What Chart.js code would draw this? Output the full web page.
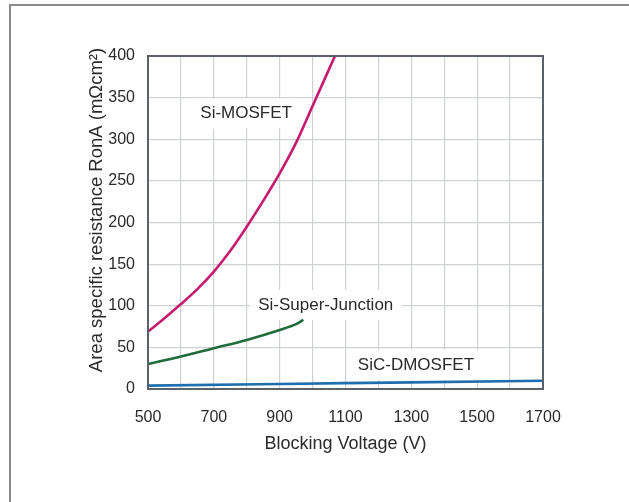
<!DOCTYPE html>
<html>
<head>
<meta charset="utf-8">
<script src="https://cdn.jsdelivr.net/npm/chart.js@4.4.1/dist/chart.umd.min.js"></script>
<style>
  html, body { margin: 0; padding: 0; background: #ffffff; }
  #wrap { position: relative; width: 629px; height: 502px; overflow: hidden; }
  #frame { position: absolute; left: 9px; top: 4px; width: 700px; height: 600px;
           border-top: 2px solid #8a8a8a; border-left: 2px solid #8a8a8a; }
  canvas { position: absolute; left: 0; top: 0; }
</style>
</head>
<body>
<div id="wrap">
  <div id="frame"></div>
  <canvas id="c" width="629" height="502"></canvas>
</div>
<script>
// Blocking voltage (V) and area specific on-resistance (mΩcm²)
const siMosfetV   = [500, 550, 600, 650, 700, 750, 800, 850, 900, 950, 1000, 1068];
const siMosfetR   = [69, 85, 102, 120, 141, 166, 195, 226, 259, 296, 340, 400];
const superJuncV  = [500, 600, 700, 800, 900, 950, 972];
const superJuncR  = [30, 39, 49, 59, 71, 78, 83];
const sicV        = [500, 900, 1300, 1700];
const sicR        = [4, 6, 8, 10];

const seriesNames  = ['Si-MOSFET', 'Si-Super-Junction', 'SiC-DMOSFET'];
const labelAnchorV = [798, 1040, 1314];
const labelAnchorR = [331, 101, 29];

const xTitle = 'Blocking Voltage (V)';
const yTitle = 'Area specific resistance RonA (mΩcm²)';

const xMin = 500, xMax = 1700, xStep = 100, xLabelStep = 200;
const yMin = 0, yMax = 400, yStep = 50;

const FONT = '"Liberation Sans", Arial, sans-serif';
const TEXT = '#2a2a2a';

function pts(xs, ys) { return xs.map((x, i) => ({ x: x, y: ys[i] })); }

// White-boxed curve labels, the plot frame and the vertical axis title
const annotate = {
  id: 'annotate',
  beforeDatasetsDraw(chart) {
    const { ctx, scales: { x, y } } = chart;
    ctx.save();
    ctx.font = '17px ' + FONT;
    ctx.textAlign = 'center';
    ctx.textBaseline = 'middle';
    seriesNames.forEach((name, i) => {
      const cx = x.getPixelForValue(labelAnchorV[i]);
      const cy = y.getPixelForValue(labelAnchorR[i]);
      const w = ctx.measureText(name).width;
      ctx.fillStyle = '#ffffff';
      ctx.fillRect(cx - w / 2 - 8, cy - 15, w + 16, 30);
      ctx.fillStyle = TEXT;
      ctx.fillText(name, cx, cy);
    });
    ctx.restore();
  },
  afterDatasetsDraw(chart) {
    const { ctx, chartArea: a } = chart;
    ctx.save();
    ctx.strokeStyle = '#5b6168';
    ctx.lineWidth = 2;
    ctx.strokeRect(a.left, a.top, a.right - a.left, a.bottom - a.top);
    ctx.translate(97, 210);
    ctx.rotate(-Math.PI / 2);
    ctx.font = '18.5px ' + FONT;
    ctx.fillStyle = TEXT;
    ctx.textAlign = 'center';
    ctx.textBaseline = 'middle';
    ctx.fillText(yTitle, 0, 0);
    ctx.restore();
  }
};

new Chart(document.getElementById('c'), {
  type: 'scatter',
  data: {
    datasets: [
      { label: seriesNames[0], data: pts(siMosfetV, siMosfetR), borderColor: '#c61a6e' },
      { label: seriesNames[1], data: pts(superJuncV, superJuncR), borderColor: '#1f6b3c' },
      { label: seriesNames[2], data: pts(sicV, sicR), borderColor: '#1f6fae' }
    ].map(d => Object.assign(d, {
      showLine: true, borderWidth: 2.6, pointRadius: 0,
      cubicInterpolationMode: 'monotone', fill: false
    }))
  },
  options: {
    responsive: false,
    animation: false,
    events: [],
    layout: { padding: { left: 0, top: 56, right: 86, bottom: 0 } },
    plugins: { legend: { display: false }, tooltip: { enabled: false } },
    scales: {
      x: {
        type: 'linear', min: xMin, max: xMax,
        afterFit(s) { s.height = 113; },
        grid: { color: '#cfd2d4', lineWidth: 1.2, drawTicks: false },
        border: { display: false },
        ticks: {
          stepSize: xStep, padding: 19, maxRotation: 0, autoSkip: false,
          color: TEXT, font: { family: FONT, size: 16 },
          callback: v => ((v - xMin) % xLabelStep === 0 ? String(v) : '')
        },
        title: {
          display: true, text: xTitle, color: TEXT,
          font: { family: FONT, size: 18 }, padding: { top: 0, bottom: 47 }
        }
      },
      y: {
        min: yMin, max: yMax,
        afterFit(s) { s.width = 148; },
        grid: { color: '#cfd2d4', lineWidth: 1.2, drawTicks: false },
        border: { display: false },
        ticks: {
          stepSize: yStep, padding: 13, color: TEXT,
          font: { family: FONT, size: 16 }
        },
        title: { display: false }
      }
    }
  },
  plugins: [annotate]
});
</script>
</body>
</html>
